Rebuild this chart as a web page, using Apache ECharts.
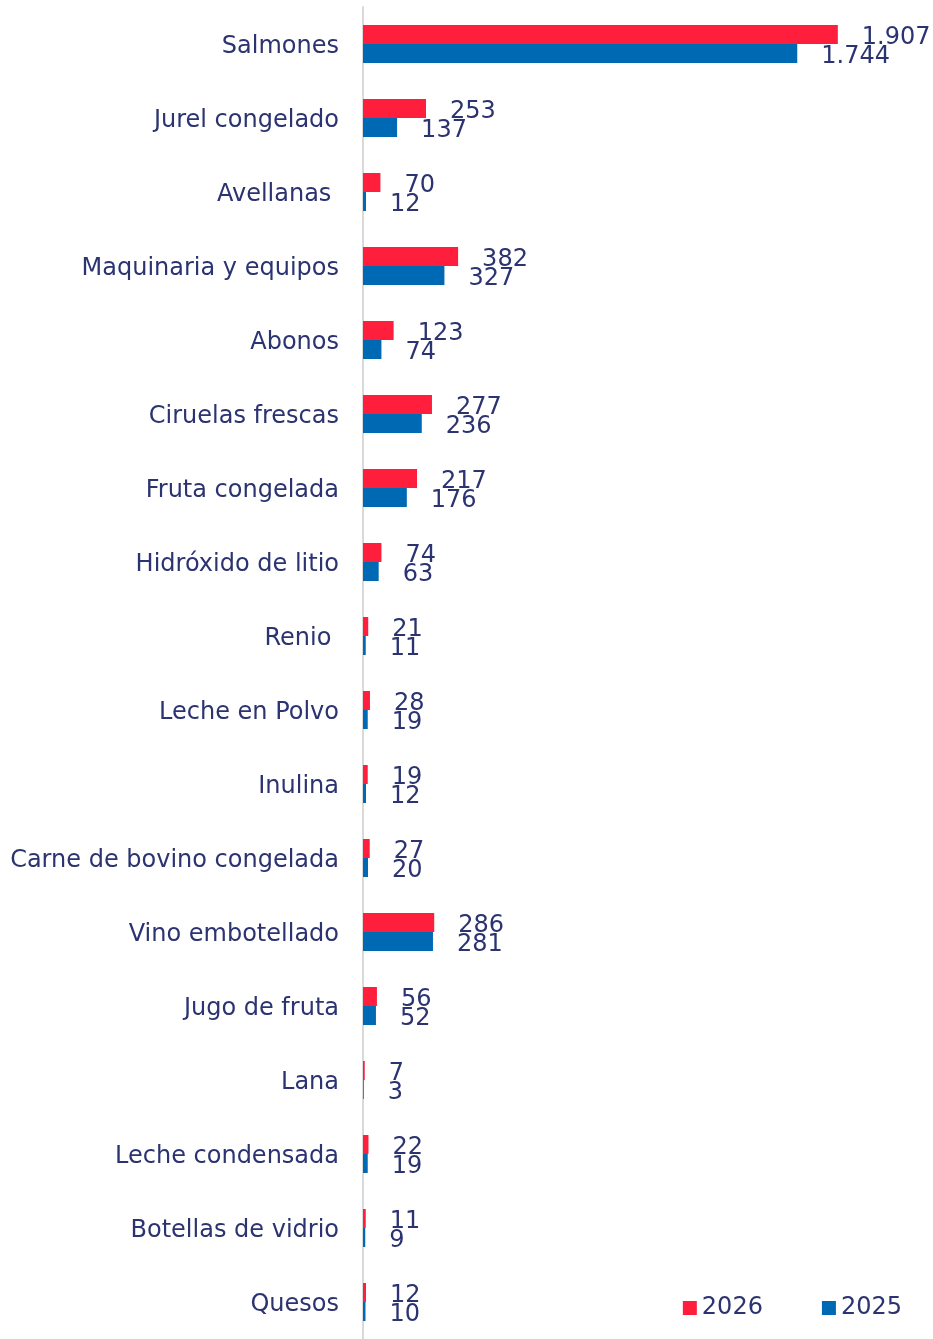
<!DOCTYPE html>
<html>
<head>
<meta charset="utf-8">
<script src="https://cdn.jsdelivr.net/npm/echarts@6/dist/echarts.min.js"></script>
<style>
  html, body { margin: 0; padding: 0; background: #fff; }
  #chart { width: 933px; height: 1339px; }
</style>
</head>
<body>
<div id="chart"></div>
<script>
const categories = [
  "Salmones", "Jurel congelado", "Avellanas ", "Maquinaria y equipos", "Abonos",
  "Ciruelas frescas", "Fruta congelada", "Hidróxido de litio", "Renio ",
  "Leche en Polvo", "Inulina", "Carne de bovino congelada", "Vino embotellado",
  "Jugo de fruta", "Lana", "Leche condensada", "Botellas de vidrio", "Quesos"
];
const values2026 = [1907, 253, 70, 382, 123, 277, 217, 74, 21, 28, 19, 27, 286, 56, 7, 22, 11, 12];
const values2025 = [1744, 137, 12, 327, 74, 236, 176, 63, 11, 19, 12, 20, 281, 52, 3, 19, 9, 10];

const textColor = "#2B3370";
const font = "DejaVu Sans";

// thousands with a dot, like 1.907
function fmt(v) {
  return String(v).replace(/\B(?=(\d{3})+(?!\d))/g, ".");
}

function barSeries(name, data, color) {
  return {
    name: name,
    type: "bar",
    data: data,
    barWidth: 19,
    barGap: "0%",
    itemStyle: { color: color },
    label: {
      show: true,
      position: "right",
      distance: 24,
      offset: [0, 3],
      color: textColor,
      fontFamily: font,
      fontSize: 24,
      formatter: (p) => fmt(p.value),
    },
  };
}

const chart = echarts.init(document.getElementById("chart"));
chart.setOption({
  animation: false,
  textStyle: { fontFamily: font },
  legend: {
    data: ["2026", "2025"],
    right: 26,
    bottom: 14,
    itemWidth: 14,
    itemHeight: 14,
    itemGap: 59,
    icon: "rect",
    textStyle: { color: textColor, fontFamily: font, fontSize: 24 },
  },
  grid: {
    left: 363,
    top: 7,
    width: 498,
    height: 1337,
    containLabel: false,
  },
  xAxis: {
    type: "value",
    min: 0,
    max: 2000,
    show: false,
  },
  yAxis: {
    type: "category",
    data: categories,
    inverse: true,
    axisLine: { show: true, lineStyle: { color: "#D9D9D9", width: 2 } },
    axisTick: { show: false },
    axisLabel: {
      margin: 24,
      formatter: (v) => "{c|" + v + "}",
      rich: {
        c: {
          color: textColor,
          fontFamily: font,
          fontSize: 24,
          padding: [6, 0, 0, 0],
        },
      },
    },
  },
  series: [
    barSeries("2026", values2026, "#FF1F3D"),
    barSeries("2025", values2025, "#0069B4"),
  ],
});
</script>
</body>
</html>
